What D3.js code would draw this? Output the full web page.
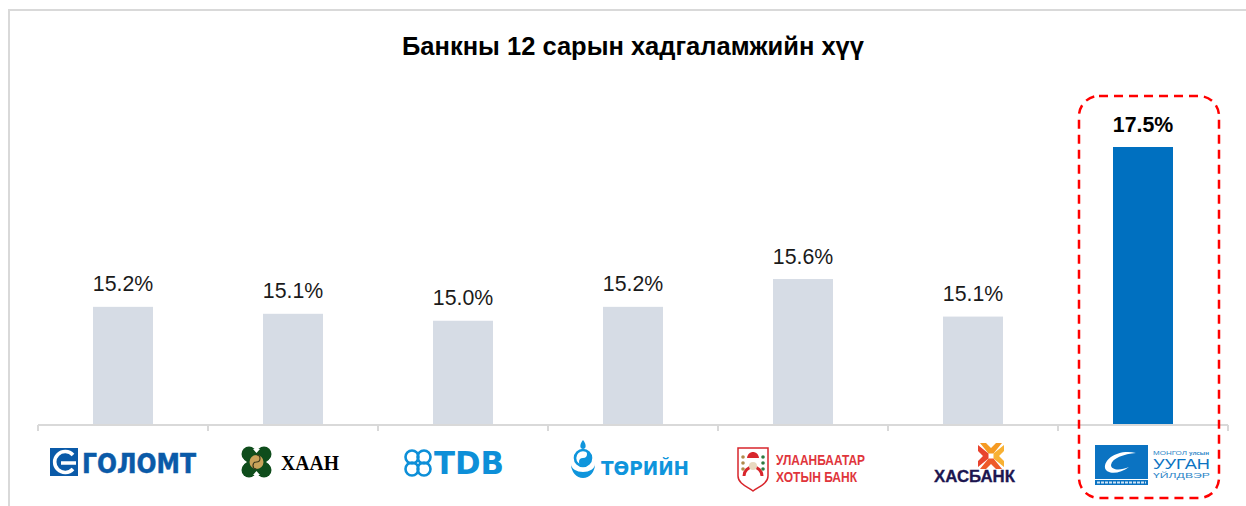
<!DOCTYPE html>
<html>
<head>
<meta charset="utf-8">
<script src="https://cdn.jsdelivr.net/npm/d3@7"></script>
<style>
  html, body { margin: 0; padding: 0; background: #fff; }
  svg { display: block; }
</style>
</head>
<body>
<div id="chart"></div>
<script>
(function bankRates() {
  var banks = ["Голомт", "Хаан", "TDB", "Төрийн", "Улаанбаатар хотын банк", "Хасбанк", "Монгол улсын Ууган Үйлдвэр"];
  var rates = [15.2, 15.1, 15.0, 15.2, 15.6, 15.06, 17.5];
  var highlightBank = "Монгол улсын Ууган Үйлдвэр";
  var titleText = "Банкны 12 сарын хадгаламжийн хүү";

  var width = 1246,
      height = 506,
      axisY = 425;

  var svg = d3.select("#chart").append("svg")
      .attr("width", width)
      .attr("height", height)
      .style("font-family", "'Liberation Sans', Arial, sans-serif");

  // slide frame, open on the right and bottom
  svg.append("path")
      .attr("d", "M9,506V10H1246")
      .attr("fill", "none")
      .attr("stroke", "#d9d9d9")
      .attr("stroke-width", 2);

  svg.append("text")
      .attr("x", 633)
      .attr("y", 55)
      .attr("text-anchor", "middle")
      .style("font-size", "25.5px")
      .style("font-weight", "bold")
      .attr("fill", "#000")
      .text(titleText);

  var x = d3.scaleBand().domain(banks).range([38, 1228]);
  var xBar = d3.scaleBand().domain(banks).range([38, 1228])
      .paddingInner(11 / 17)
      .paddingOuter(5.5 / 17);
  var y = d3.scaleLinear().domain([13.5, 17.5]).range([axisY, 147]);
  var fmt = d3.format(".1f");

  var rows = banks.map(function(b, i) { return { bank: b, rate: rates[i] }; });

  svg.selectAll(".bar")
      .data(rows)
    .enter().append("rect")
      .attr("class", "bar")
      .attr("x", function(d) { return xBar(d.bank); })
      .attr("y", function(d) { return y(d.rate); })
      .attr("width", xBar.bandwidth())
      .attr("height", function(d) { return axisY - y(d.rate); })
      .attr("fill", function(d) { return d.bank === highlightBank ? "#0070c0" : "#d6dce5"; });

  svg.selectAll(".val")
      .data(rows)
    .enter().append("text")
      .attr("class", "val")
      .attr("x", function(d) { return xBar(d.bank) + xBar.bandwidth() / 2; })
      .attr("y", function(d) { return y(d.rate) - 15.5; })
      .attr("text-anchor", "middle")
      .style("font-size", "21.3px")
      .style("font-weight", function(d) { return d.bank === highlightBank ? "bold" : "normal"; })
      .attr("fill", function(d) { return d.bank === highlightBank ? "#000" : "#1a1a1a"; })
      .text(function(d) { return fmt(d.rate) + "%"; });

  // category axis: ticks sit between the bands
  var axis = svg.append("g").attr("stroke", "#d9d9d9").attr("stroke-width", 2).attr("fill", "none");
  axis.append("line").attr("x1", x.range()[0]).attr("x2", x.range()[1]).attr("y1", axisY).attr("y2", axisY);
  axis.selectAll(".tick")
      .data(banks.concat([null]))
    .enter().append("line")
      .attr("class", "tick")
      .attr("x1", function(d) { return d ? x(d) : x.range()[1]; })
      .attr("x2", function(d) { return d ? x(d) : x.range()[1]; })
      .attr("y1", axisY)
      .attr("y2", axisY + 6);

  // highlight box
  svg.append("rect")
      .attr("x", 1079)
      .attr("y", 96)
      .attr("width", 140)
      .attr("height", 402)
      .attr("rx", 20)
      .attr("fill", "none")
      .attr("stroke", "#ff0000")
      .attr("stroke-width", 2.5)
      .attr("stroke-dasharray", "9 6");

  // logos are redrawn as simple shapes with live text
  var logos = svg.append("g");

  function logoText(str, px, py, w, size, color, weight, family) {
    return logos.append("text")
        .attr("x", px)
        .attr("y", py)
        .attr("textLength", w)
        .attr("lengthAdjust", "spacingAndGlyphs")
        .style("font-size", size + "px")
        .style("font-weight", weight || "bold")
        .style("font-family", family || null)
        .attr("fill", color)
        .text(str);
  }

  function dots(list, r, color) {
    list.forEach(function(p) {
      logos.append("circle").attr("cx", p[0]).attr("cy", p[1]).attr("r", r).attr("fill", color);
    });
  }

  // Голомт
  logos.append("rect").attr("x", 50).attr("y", 448).attr("width", 28).attr("height", 28).attr("fill", "#0a5aa8");
  logos.append("path")
      .attr("d", "M73,455A10.5,10.5 0 1 0 73,469M61,463H76")
      .attr("fill", "none").attr("stroke", "#fff").attr("stroke-width", 3.6);
  logoText("ГОЛОМТ", 82, 473, 114, 27, "#0a5aa8", "bold", "'DejaVu Sans', sans-serif")
      .attr("stroke", "#0a5aa8").attr("stroke-width", 0.5);

  // Хаан
  dots([[249, 454], [264, 454], [249, 470], [264, 470]], 7.5, "#0f4d1c");
  logos.append("rect").attr("x", 247).attr("y", 451).attr("width", 19).attr("height", 22).attr("fill", "#0f4d1c");
  logos.append("rect").attr("x", 244).attr("y", 454).attr("width", 25).attr("height", 16).attr("fill", "#0f4d1c");
  logos.append("path")
      .attr("d", "M253,449H260L256.5,453ZM253,475H260L256.5,471ZM243,459V465L247,462ZM270,459V465L266,462Z")
      .attr("fill", "#fff");
  logos.append("circle").attr("cx", 256.5).attr("cy", 462).attr("r", 7).attr("fill", "#c9a35a");
  logos.append("path")
      .attr("d", "M256.5,455A3.5,3.5 0 0 1 256.5,462A3.5,3.5 0 0 0 256.5,469")
      .attr("fill", "none").attr("stroke", "#3d3a1c").attr("stroke-width", 1.2);
  logoText("ХААН", 281, 470, 58, 20, "#000", "bold", "'Liberation Serif', serif");

  // TDB
  [[412, 457], [424, 457], [412, 469], [424, 469]].forEach(function(p) {
    logos.append("circle").attr("cx", p[0]).attr("cy", p[1]).attr("r", 6.5)
        .attr("fill", "none").attr("stroke", "#0d8fd8").attr("stroke-width", 2.6);
  });
  logoText("TDB", 434, 474, 70, 32, "#0d8fd8", "bold", "'DejaVu Sans', sans-serif");

  // Төрийн
  logos.append("circle").attr("cx", 583).attr("cy", 458).attr("r", 8).attr("fill", "#fff").attr("stroke", "#0f95dc").attr("stroke-width", 2.6);
  logos.append("path").attr("d", "M583,450A4,4 0 0 1 583,458A4,4 0 0 0 583,466A8,8 0 0 0 583,450Z").attr("fill", "#0f95dc");
  logos.append("path").attr("d", "M571,464A12,14 0 0 0 595,464A12,8 0 0 1 571,464Z").attr("fill", "#0f95dc");
  logos.append("path").attr("d", "M583,440C587,445 586,449 583,449C580,449 579,445 583,440Z").attr("fill", "#0f95dc");
  logoText("ТӨРИЙН", 601, 475, 88, 19, "#0f95dc", "bold", "'DejaVu Sans', sans-serif");

  // Улаанбаатар хотын банк
  logos.append("path")
      .attr("d", "M738,448H768V476C768,484 758,487 753,491C748,487 738,484 738,476Z")
      .attr("fill", "#fff").attr("stroke", "#d8262c").attr("stroke-width", 1.5);
  logos.append("path").attr("d", "M744,476A9,9 0 0 1 762,476").attr("fill", "none").attr("stroke", "#d8262c").attr("stroke-width", 3);
  logos.append("circle").attr("cx", 753).attr("cy", 466).attr("r", 4).attr("fill", "#e8d9c0");
  logos.append("path").attr("d", "M747,458C748,450 758,450 759,458Z").attr("fill", "#d8262c");
  dots([[743, 457], [743, 463], [743, 469]], 1.8, "#b08a4a");
  dots([[763, 457], [763, 463], [763, 469]], 1.8, "#2f7a3f");
  logoText("УЛААНБААТАР", 776, 465, 89, 14, "#e0353c", "bold");
  logoText("ХОТЫН БАНК", 776, 482, 81, 14, "#e0353c", "bold");

  // Хасбанк
  [["#f59a23", 0], ["#f8b133", 90], ["#ee5a2a", 180], ["#e8432e", 270]].forEach(function(c) {
    logos.append("path")
        .attr("d", "M-11,-13L-5,-13L0,-8L5,-13L11,-13L2.5,-2.5L-2.5,-2.5Z")
        .attr("transform", "translate(991,456) rotate(" + c[1] + ")")
        .attr("fill", c[0]);
  });
  logoText("ХАСБАНК", 934, 482, 81, 16, "#1c1650", "bold")
      .attr("stroke", "#1c1650").attr("stroke-width", 0.3);

  // Монгол улсын Ууган Үйлдвэр
  logos.append("rect").attr("x", 1095).attr("y", 445).attr("width", 53).attr("height", 40).attr("fill", "#0b73c2");
  logos.append("rect").attr("x", 1095).attr("y", 479).attr("width", 53).attr("height", 1).attr("fill", "#fff");
  logos.append("path")
      .attr("d", "M1136,453C1118,449 1104,459 1105,468C1107,475 1120,474 1129,467C1120,471 1111,470 1111,465C1112,458 1124,454 1136,453Z")
      .attr("fill", "#fff");
  logos.append("line").attr("x1", 1097).attr("x2", 1146).attr("y1", 482.5).attr("y2", 482.5)
      .attr("stroke", "#cfe4f5").attr("stroke-width", 2).attr("stroke-dasharray", "3 1");
  logoText("МОНГОЛ", 1153, 454.5, 34, 6, "#2d86c8", "normal");
  logoText("улсын", 1189, 454.5, 20, 5, "#2d86c8", "bold");
  logoText("УУГАН", 1153, 468.5, 57, 14, "#0b73c2", "normal");
  logoText("ҮЙЛДВЭР", 1153, 478, 57, 7, "#2d86c8", "normal");
})();
</script>
</body>
</html>
